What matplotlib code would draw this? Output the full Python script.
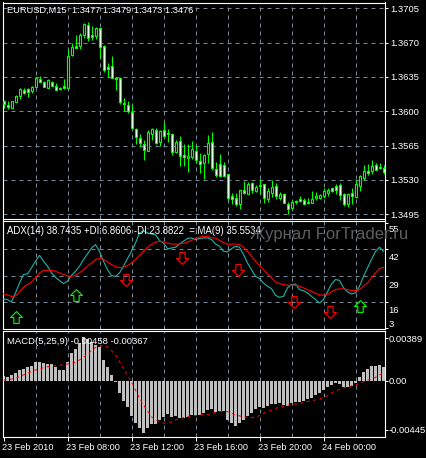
import matplotlib
matplotlib.use('Agg')
import matplotlib.pyplot as plt
import numpy as np
from matplotlib.path import Path
from matplotlib.transforms import ScaledTranslation

# candles, price * 10000
highs = [13612,13610,13610,13617,13624,13624,13624,13626,13635,13636,13631,13633,13631,13629,13625,13633,13663,13670,13678,13680,13690,13691,13687,13686,13685,13668,13649,13656,13635,13635,13614,13610,13607,13583,13577,13571,13581,13583,13583,13581,13589,13582,13578,13571,13575,13567,13567,13570,13566,13557,13556,13576,13579,
         13548,13556,13548,13536,13517,13517,13520,13529,13528,13528,13525,13531,13526,13522,13530,13527,13518,13517,13508,13510,13510,13514,13512,13512,13519,13518,13516,13522,13522,13523,13526,13527,13517,13517,13522,13530,13535,13545,13546,13550,13547,13547,13545]
body_tops = [13610,13606,13610,13616,13623,13622,13623,13625,13634,13633,13630,13632,13630,13626,13624,13626,13656,13666,13667,13678,13689,13688,13678,13685,13685,13667,13645,13646,13634,13634,13608,13606,13599,13582,13573,13567,13579,13582,13581,13580,13581,13578,13577,13569,13570,13555,13554,13562,13560,13549,13555,13568,13569,
             13541,13546,13545,13536,13514,13512,13520,13520,13526,13527,13523,13525,13526,13519,13523,13524,13516,13516,13506,13508,13509,13511,13510,13508,13511,13514,13515,13519,13520,13522,13524,13525,13516,13516,13517,13526,13534,13539,13539,13544,13545,13543,13542]
body_bots = [13607,13604,13603,13609,13616,13619,13620,13621,13625,13630,13625,13624,13626,13622,13623,13624,13624,13657,13665,13667,13678,13675,13676,13677,13666,13642,13643,13634,13633,13609,13607,13600,13583,13574,13568,13561,13560,13577,13568,13569,13575,13577,13559,13558,13554,13553,13552,13553,13550,13546,13547,13556,13542,
             13535,13534,13534,13512,13511,13506,13506,13517,13516,13520,13519,13524,13512,13511,13517,13514,13512,13507,13500,13501,13508,13509,13506,13507,13507,13512,13512,13514,13517,13519,13520,13515,13506,13505,13514,13513,13524,13532,13537,13539,13540,13542,13538]
lows = [13603,13602,13603,13609,13613,13618,13615,13619,13625,13630,13625,13624,13626,13622,13622,13623,13624,13656,13665,13664,13675,13672,13673,13674,13654,13640,13635,13634,13622,13607,13600,13598,13583,13567,13564,13550,13560,13571,13567,13565,13574,13569,13555,13557,13544,13544,13538,13551,13547,13537,13531,13547,13540,
        13533,13533,13533,13510,13506,13503,13500,13516,13516,13517,13518,13516,13507,13508,13513,13511,13510,13507,13495,13500,13506,13508,13505,13506,13507,13510,13511,13512,13514,13518,13516,13510,13503,13502,13506,13512,13519,13530,13535,13536,13540,13541,13536]
# bars that closed higher (black body)
up_bars = [2,3,4,7,8,11,16,17,19,20,23,36,37,39,43,46,47,50,51,59,61,63,66,67,69,72,77,78,79,80,81,86,88,89,90,92]

adx = [17.4,17.1,15.9,20.4,25.3,29.5,29.8,32.8,36.1,39.0,36.1,33.6,30.3,28.1,26.5,25.0,26.2,29.1,31.1,33.6,36.9,39.7,42.6,44.3,41.0,36.1,31.9,29.0,28.6,30.3,33.6,37.4,41.0,45.1,50.1,51.2,50.1,49.6,49.2,46.3,45.1,42.3,42.6,43.0,44.6,46.0,47.3,47.6,46.8,47.3,47.6,47.6,46.8,
       44.6,43.5,41.0,40.7,42.3,43.5,43.0,39.4,35.2,31.9,28.6,27.5,25.3,23.7,22.5,19.2,18.2,18.7,22.9,24.5,24.8,22.0,21.5,20.4,18.7,17.1,15.4,17.1,20.9,24.8,27.0,26.6,22.9,20.9,19.9,20.4,23.7,28.6,32.8,36.9,41.0,43.0,41.0]
adx_ma = [19.9,19.4,18.6,18.9,20.9,23.2,24.5,25.8,27.8,30.3,31.4,31.6,31.6,31.1,30.3,29.5,28.8,28.6,29.1,30.3,31.9,33.6,35.2,36.9,37.5,37.0,35.7,34.4,33.4,32.9,33.1,33.9,35.2,36.9,39.0,41.0,43.0,44.3,45.5,46.0,45.6,45.0,44.6,44.5,44.6,45.0,45.6,46.4,47.3,48.1,48.4,48.4,47.6,
          47.6,46.4,45.3,44.5,44.5,44.6,44.3,43.0,41.0,38.5,36.1,33.9,31.9,29.8,27.8,25.8,25.0,24.5,24.2,24.2,24.2,23.7,22.9,22.0,21.2,20.2,19.4,19.2,19.6,20.9,22.0,22.4,22.4,22.0,21.5,21.5,22.0,23.7,25.3,27.8,30.3,32.4,33.1]

# arrows on the ADX panel: bar, value
up_arrow_bars = [3, 18, 89]
up_arrow_vals = [8.5, 19.4, 13.8]
down_arrow_bars = [30.5, 44.6, 58.5, 72.5, 81.5]
down_arrow_vals = [27.0, 37.9, 31.9, 16.1, 11.0]

# MACD, units of 0.00001
macd = [45,36,55,73,100,109,124,133,170,173,164,158,152,124,100,100,173,252,291,343,397,382,358,328,312,191,130,55,-6,-109,-179,-234,-318,-379,-425,-470,-431,-394,-391,-355,-331,-300,-331,-315,-340,-334,-325,-309,-312,-309,-294,-261,-258,
        -279,-273,-273,-355,-385,-409,-385,-355,-318,-294,-258,-240,-243,-227,-209,-209,-203,-215,-227,-203,-194,-194,-185,-167,-158,-127,-112,-82,-52,-36,-15,-27,-58,-58,-45,-15,39,79,109,136,136,146,130]
signal = [9,12,18,24,39,55,70,85,100,109,121,130,136,140,143,146,155,161,170,191,215,246,276,306,318,322,312,276,237,176,115,45,-6,-82,-158,-218,-273,-325,-355,-370,-385,-379,-373,-355,-340,-334,-325,-318,-315,-312,-306,-306,-294,
          -288,-279,-276,-279,-294,-309,-318,-325,-331,-331,-331,-315,-294,-279,-264,-249,-237,-231,-221,-215,-209,-203,-200,-188,-179,-173,-164,-149,-133,-112,-91,-76,-64,-55,-45,-36,-21,-6,9,18,33,55,76]

price_ticks = [1.3705, 1.3670, 1.3635, 1.3600, 1.3565, 1.3530, 1.3495]
adx_ticks = [55, 42, 29, 16, 3]
adx_grid = [42, 29, 16]
macd_ticks = [0.00389, 0.0, -0.00445]
macd_labels = ['0.00389', '0.00', '-0.00445']
grid_bars = [8, 16, 24, 32, 40, 48, 56, 64, 72, 80, 88]
date_bars = [0, 16, 32, 48, 64, 80]
date_labels = ['23 Feb 2010', '23 Feb 08:00', '23 Feb 12:00', '23 Feb 16:00', '23 Feb 20:00', '24 Feb 00:00']

W, H = 426, 458
FS = 6.8
GRID = '#778899'
plt.rcParams['font.family'] = 'Liberation Sans'

fig = plt.figure(figsize=(W / 100, H / 100), dpi=100, facecolor='black')


def panel(top, bottom):
    # panel box given in pixels from the top of the picture
    ax = fig.add_axes([2.5 / W, 1 - bottom / H, 382 / W, (bottom - top) / H], facecolor='black')
    for s in ax.spines.values():
        s.set_color('white')
        s.set_linewidth(0.8)
    ax.set_xlim(-0.25, 95.25)
    ax.yaxis.tick_right()
    ax.tick_params(axis='y', colors='white', length=2.5, width=0.72, labelsize=FS, pad=2)
    ax.tick_params(axis='x', length=0, labelbottom=False)
    for b in grid_bars:
        ax.axvline(b, color=GRID, lw=0.72, ls=(0, (4, 4)), zorder=1)
    return ax


def nudge(label, dx, dy):
    # shift a tick label by some pixels
    label.set_transform(label.get_transform() + ScaledTranslation(dx / 100, dy / 100, fig.dpi_scale_trans))


x = np.arange(len(highs))
highs = np.array(highs) / 10000
lows = np.array(lows) / 10000
body_tops = np.array(body_tops) / 10000
body_bots = np.array(body_bots) / 10000
is_up = np.isin(x, up_bars)

# price panel
ax1 = panel(2.5, 219)
ax1.set_ylim(1.34902, 1.37109)
ax1.set_yticks(price_ticks, ['%.4f' % p for p in price_ticks])
ax1.set_xticks([])
for p in price_ticks:
    ax1.axhline(p, color=GRID, lw=0.72, ls=(0, (4, 4)), zorder=1)
ax1.vlines(x, lows, highs, color='#00ff00', lw=0.8, zorder=2)
ax1.bar(x, body_tops - body_bots, bottom=body_bots, width=0.5,
        color=np.where(is_up, 'black', 'white'), edgecolor='#00ff00', linewidth=0.8, zorder=3)
ax1.text(4.2 / 382, 1 - 8.3 / 216.5, 'EURUSD,M15  1.3477 1.3479 1.3473 1.3476', transform=ax1.transAxes,
         color='white', fontsize=FS - 0.1, va='center', ha='left', zorder=6)

# ADX panel
ax2 = panel(220.5, 329)
ax2.set_ylim(2.52, 56.24)
ax2.set_yticks(adx_ticks, [str(t) for t in adx_ticks])
ax2.tick_params(axis='y', pad=0.5)
ax2.set_xticks([])
for v in adx_grid:
    ax2.axhline(v, color=GRID, lw=0.72, ls=(0, (4, 4)), zorder=1)
ax2.plot(x, adx, color='#20b2aa', lw=0.8, zorder=3)
ax2.plot(x, adx_ma, color='red', lw=0.8, zorder=4)
for lab, off in zip(ax2.get_yticklabels(), [5, 7.7, 8.5, 8, -5]):
    nudge(lab, 0, -off)

up_shape = Path([(-0.45, -1), (0.45, -1), (0.45, 0), (1, 0), (0, 1), (-1, 0), (-0.45, 0), (-0.45, -1)], closed=True)
down_shape = Path([(-0.45, 1), (0.45, 1), (0.45, 0), (1, 0), (0, -1), (-1, 0), (-0.45, 0), (-0.45, 1)], closed=True)
ax2.plot(up_arrow_bars, up_arrow_vals, ls='none', marker=up_shape, ms=8.5, mfc='none', mec='#00ff00', mew=0.8, zorder=5)
ax2.plot(down_arrow_bars, down_arrow_vals, ls='none', marker=down_shape, ms=8.5, mfc='none', mec='red', mew=0.8, zorder=5)
ax2.text(4.2 / 382, 1 - 10.8 / 108.5, 'ADX(14) 38.7435 +DI:6.8606 -DI:23.8822  =:MA(9) 35.5534', transform=ax2.transAxes,
         color='white', fontsize=FS + 0.15, va='center', ha='left', zorder=6)

# MACD panel
ax3 = panel(331, 437)
ax3.set_ylim(-0.0051, 0.00455)
ax3.set_yticks(macd_ticks, macd_labels)
ax3.tick_params(axis='y', pad=0.5)
ax3.bar(x, np.array(macd) * 1e-5, width=0.78, color='#c0c0c0', linewidth=0, zorder=2)
ax3.plot(x, np.array(signal) * 1e-5, color='red', lw=0.72, ls=(0, (3, 3.5)), zorder=3)
ax3.set_xticks(date_bars, date_labels)
ax3.tick_params(axis='x', colors='white', length=3, width=0.72, labelbottom=True, labelsize=FS - 0.2, pad=1.5)
for lab in ax3.get_xticklabels():
    lab.set_ha('left')
    nudge(lab, -1.6, 0)
ax3.text(4.2 / 382, 1 - 10.3 / 106, 'MACD(5,25,9) -0.00458 -0.00367', transform=ax3.transAxes,
         color='white', fontsize=FS, va='center', ha='left', zorder=6)

# watermark
fig.text(250 / W, 1 - 235 / H, 'Журнал ForTrader.ru', color='#5e5e5e', fontsize=12,
         family='Liberation Sans', va='center', ha='left')

fig.savefig('out.png', dpi=100, facecolor='black')
